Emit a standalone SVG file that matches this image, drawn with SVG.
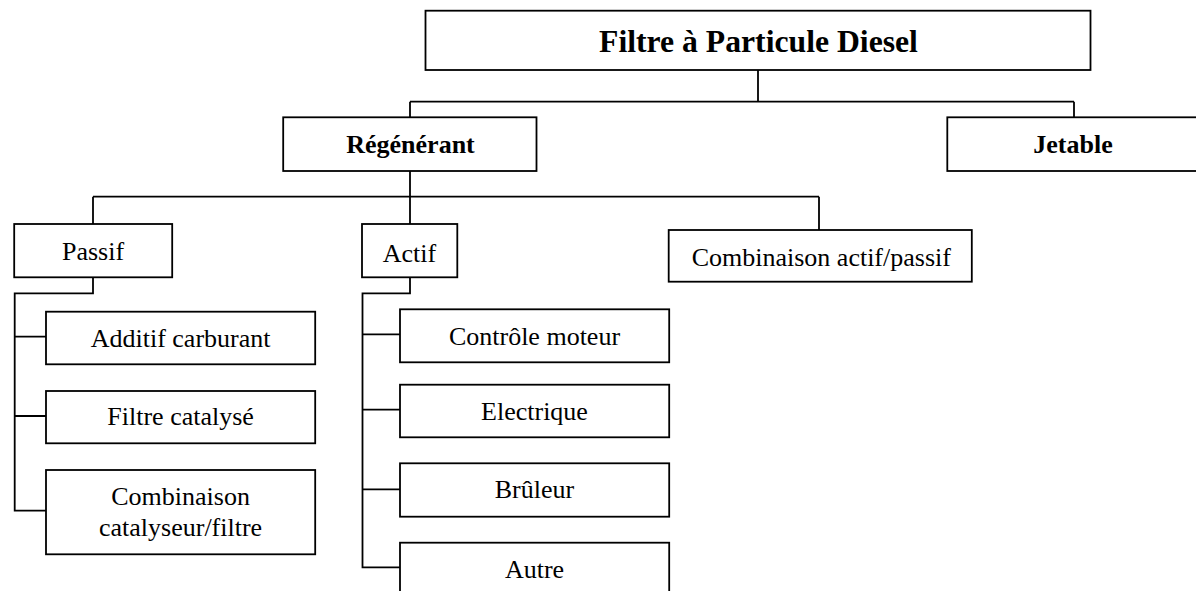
<svg xmlns="http://www.w3.org/2000/svg" width="1196" height="591" viewBox="0 0 1196 591">
<style>
.box{fill:#fff;stroke:#000;stroke-width:1.8}
.ln{fill:none;stroke:#000;stroke-width:1.8}
.t{font-family:"Liberation Serif","Times New Roman",serif;font-size:26px;fill:#000;text-anchor:middle}
.b{font-weight:bold}
</style>
<rect width="1196" height="591" fill="#fff"/>
<g id="connectors">
<path class="ln" d="M758,70 V101.7 M410,101.7 H1074 M410,101.7 V117.3 M1074,101.7 V117.3"/>
<path class="ln" d="M410,171 V196.7 M93,196.7 H819 M93,196.7 V224 M410,196.7 V224 M819,196.7 V230"/>
<path class="ln" d="M93,277.3 V293.3 H14.7 V510.7 H46 M14.7,336.7 H46 M14.7,416 H46"/>
<path class="ln" d="M410,277.3 V293.3 H362.5 V567.3 H400 M362.5,334.3 H400 M362.5,409.7 H400 M362.5,489.3 H400"/>
</g>
<g id="n-fpd"><rect class="box" x="425.5" y="10.7" width="665" height="59.3"/><text class="t b" x="758.5" y="51.7" style="font-size:31.7px">Filtre à Particule Diesel</text></g>
<g id="n-regenerant"><rect class="box" x="283.2" y="117.3" width="253.3" height="53.7"/><text class="t b" x="410.5" y="153.3">Régénérant</text></g>
<g id="n-jetable"><rect class="box" x="947.3" y="117.3" width="260" height="53.7"/><text class="t b" x="1073" y="152.7">Jetable</text></g>
<g id="n-passif"><rect class="box" x="14.2" y="224" width="158" height="53.3"/><text class="t" x="93" y="260">Passif</text></g>
<g id="n-actif"><rect class="box" x="362" y="224" width="95.3" height="53.3"/><text class="t" x="409.5" y="261.5">Actif</text></g>
<g id="n-combi-ap"><rect class="box" x="668.7" y="230" width="303.1" height="51.7"/><text class="t" x="821.3" y="265.7">Combinaison actif/passif</text></g>
<g id="n-additif"><rect class="box" x="46" y="311.7" width="269.2" height="52.6"/><text class="t" x="180.6" y="346.7">Additif carburant</text></g>
<g id="n-filtre-cat"><rect class="box" x="46" y="391" width="269.2" height="52.3"/><text class="t" x="180.6" y="425.3">Filtre catalysé</text></g>
<g id="n-combi-cf"><rect class="box" x="46" y="470" width="269.2" height="84.3"/><text class="t" x="180.6" y="505">Combinaison</text><text class="t" x="180.6" y="536">catalyseur/filtre</text></g>
<g id="n-controle"><rect class="box" x="400" y="309.3" width="269.2" height="53"/><text class="t" x="534.5" y="345">Contrôle moteur</text></g>
<g id="n-electrique"><rect class="box" x="400" y="384.7" width="269.2" height="52.6"/><text class="t" x="534.5" y="420">Electrique</text></g>
<g id="n-bruleur"><rect class="box" x="400" y="463.3" width="269.2" height="53.4"/><text class="t" x="534.5" y="498.3">Brûleur</text></g>
<g id="n-autre"><rect class="box" x="400" y="542.7" width="269.2" height="60"/><text class="t" x="534.5" y="578.3">Autre</text></g>
</svg>
